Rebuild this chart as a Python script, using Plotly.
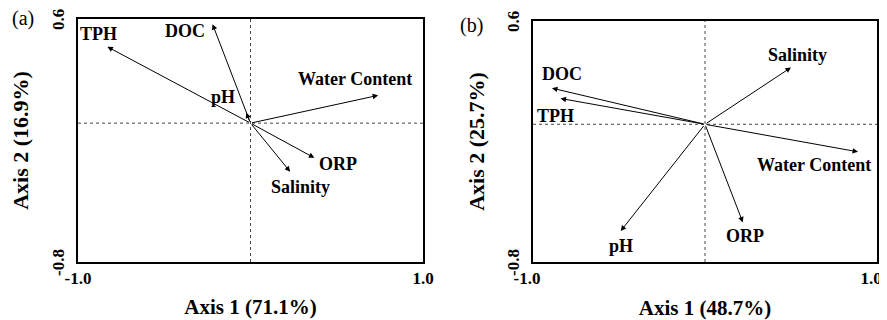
import plotly.graph_objects as go

# ---------------- data ----------------
variables_a = ["TPH", "DOC", "pH", "Water Content", "ORP", "Salinity"]
axis1_a = [-0.83, -0.22, -0.025, 0.74, 0.37, 0.23]
axis2_a = [0.44, 0.57, 0.06, 0.16, -0.20, -0.28]

variables_b = ["DOC", "TPH", "Salinity", "Water Content", "pH", "ORP"]
axis1_b = [-0.89, -0.84, 0.50, 0.89, -0.49, 0.22]
axis2_b = [0.21, 0.15, 0.33, -0.16, -0.62, -0.57]

x_title_a = "Axis 1 (71.1%)"
y_title_a = "Axis 2 (16.9%)"
x_title_b = "Axis 1 (48.7%)"
y_title_b = "Axis 2 (25.7%)"

x_tick_vals = [-1.0, 1.0]
x_tick_text = ["-1.0", "1.0"]
y_tick_vals = [-0.8, 0.6]
y_tick_text = ["-0.8", "0.6"]

# ---------------- styling ----------------
FONT = "Liberation Serif, 'Times New Roman', Times, serif"
# label offsets (pixels) from the arrow tip
offsets_a = {"TPH": (-9, 13), "DOC": (-28, -7), "pH": (-23, 16),
             "Water Content": (-23, 16), "ORP": (24, -6), "Salinity": (10, -15)}
offsets_b = {"DOC": (10, 14), "TPH": (-5, -18), "Salinity": (6, 12),
             "Water Content": (-44, -13), "pH": (0, -15), "ORP": (2, -14)}

# the page body adds an 8px margin; positions below are given in page pixels
PAGE_OFF = 8
W, H = 879, 312


def px(xp):
    return (xp - PAGE_OFF) / W


def py(yp):
    return 1 - (yp - PAGE_OFF) / H


fig = go.Figure()

dom_a_x = [px(78), px(423)]
dom_b_x = [px(533), px(877)]
dom_a_y = [py(262), py(19)]
dom_b_y = [py(262), py(21)]

# invisible traces to bind axes
fig.add_trace(go.Scatter(x=[0], y=[0], mode="markers", marker=dict(size=1, color="rgba(0,0,0,0)"),
                         xaxis="x", yaxis="y", showlegend=False, hoverinfo="skip"))
fig.add_trace(go.Scatter(x=[0], y=[0], mode="markers", marker=dict(size=1, color="rgba(0,0,0,0)"),
                         xaxis="x2", yaxis="y2", showlegend=False, hoverinfo="skip"))

annotations = []
shapes = []


def add_panel(xref, yref, names, xs, ys, offsets):
    for n, x, y in zip(names, xs, ys):
        annotations.append(dict(
            x=x, y=y, ax=0, ay=0, xref=xref, yref=yref, axref=xref, ayref=yref,
            text="", showarrow=True, arrowhead=2, arrowsize=1.1, arrowwidth=1,
            arrowcolor="black", standoff=0, startstandoff=0))
        dx, dy = offsets[n]
        annotations.append(dict(
            x=x, y=y, xref=xref, yref=yref, text=n, showarrow=False,
            xshift=dx, yshift=dy, xanchor="center", yanchor="middle",
            font=dict(family=FONT, size=18, color="black", weight="bold")))
    shapes.append(dict(type="line", xref=xref, yref=yref + " domain", x0=0, x1=0, y0=0, y1=1,
                       line=dict(color="#444", width=1, dash="dot"), layer="below"))
    shapes.append(dict(type="line", xref=xref + " domain", yref=yref, x0=0, x1=1, y0=0, y1=0,
                       line=dict(color="#444", width=1, dash="dot"), layer="below"))


add_panel("x", "y", variables_a, axis1_a, axis2_a, offsets_a)
add_panel("x2", "y2", variables_b, axis1_b, axis2_b, offsets_b)

annotations.append(dict(x=px(23), y=py(18), xref="paper", yref="paper", text="(a)",
                        showarrow=False, xanchor="center", yanchor="middle",
                        font=dict(family=FONT, size=20, color="black")))
annotations.append(dict(x=px(471), y=py(25), xref="paper", yref="paper", text="(b)",
                        showarrow=False, xanchor="center", yanchor="middle",
                        font=dict(family=FONT, size=20, color="black")))

tickfont = dict(family=FONT, size=17, color="black", weight="bold")
xtitlefont = dict(family=FONT, size=21, color="black", weight="bold")
ytitlefont = dict(family=FONT, size=22, color="black", weight="bold")


def xaxis(dom, title, standoff, anchor, shift):
    return dict(domain=dom, range=[-1, 1], showgrid=False, zeroline=False,
                showline=True, mirror=True, linecolor="black", linewidth=1.5,
                tickvals=x_tick_vals, ticktext=x_tick_text, ticks="",
                tickfont=tickfont, anchor=anchor, ticklabeloverflow="allow",
                ticklabelshift=shift,
                title=dict(text=title, font=xtitlefont, standoff=standoff), automargin=False)


def yaxis(dom, title, standoff, anchor):
    return dict(domain=dom, range=[-0.8, 0.6], showgrid=False, zeroline=False,
                showline=True, mirror=True, linecolor="black", linewidth=1.5,
                tickvals=y_tick_vals, ticktext=y_tick_text, ticks="outside", ticklen=5,
                tickcolor="rgba(0,0,0,0)", tickfont=tickfont, tickangle=-90,
                ticklabeloverflow="allow", ticklabelshift=3,
                title=dict(text=title, font=ytitlefont, standoff=standoff), automargin=False,
                anchor=anchor)


fig.update_layout(
    width=W, height=H, margin=dict(l=0, r=0, t=0, b=0),
    paper_bgcolor="white", plot_bgcolor="white", showlegend=False,
    xaxis=xaxis(dom_a_x, x_title_a, 12, "y", 0),
    yaxis=yaxis(dom_a_y, y_title_a, 15, "x"),
    xaxis2=xaxis(dom_b_x, x_title_b, 16, "y2", -6),
    yaxis2=yaxis(dom_b_y, y_title_b, 14, "x2"),
    annotations=annotations, shapes=shapes,
)

fig.write_html("out.html")
